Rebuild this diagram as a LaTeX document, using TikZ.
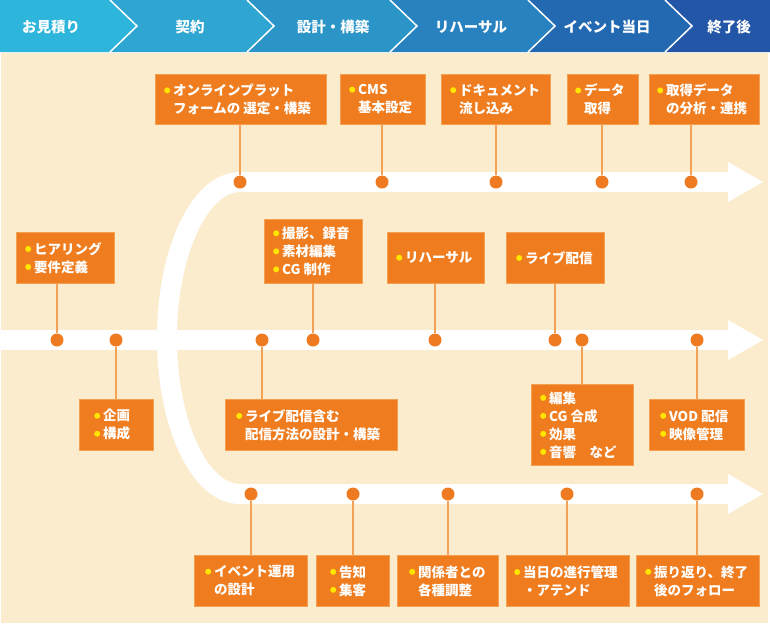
\documentclass[tikz,border=0pt]{standalone}
\usepackage{fontspec}
\setmainfont{Noto Sans CJK JP}
\usetikzlibrary{calc}
\definecolor{beige}{HTML}{FBECCD}
\definecolor{boxor}{HTML}{EF7D1F}
\definecolor{boxedge}{HTML}{F4A052}
\definecolor{dotor}{HTML}{EE7B22}
\definecolor{connor}{HTML}{F3A256}
\definecolor{bulyel}{HTML}{FFE500}
\definecolor{hcA}{HTML}{2DB5DB}
\definecolor{hcB}{HTML}{2FA5D1}
\definecolor{hcC}{HTML}{2B95C8}
\definecolor{hcD}{HTML}{2782BF}
\definecolor{hcE}{HTML}{2369B2}
\definecolor{hcF}{HTML}{2356A7}
\tikzset{
  box/.style={rectangle, fill=boxor, draw=boxedge, line width=0.8pt, inner sep=0pt},
  txt/.style={inner sep=0pt, align=left, text=white, font=\fontsize{13.5}{18}\selectfont\bfseries},
  htxt/.style={inner sep=0pt, text=white, font=\fontsize{14.5}{16}\selectfont\bfseries},
  dotnode/.style={circle, fill=dotor, minimum size=13pt, inner sep=0pt},
  conn/.style={draw=connor, line width=1.5pt},
  road/.style={draw=white, line width=20pt},
  headsep/.style={draw=white, line width=1.5pt}
}
\newcommand\bul{\makebox[9pt][l]{\raisebox{2.2pt}{\tikz\fill[bulyel](0,0)circle(3pt);}}}
\newcommand\cn{\hspace*{9pt}}
\newcommand\bx[7]{%
  \node[box, minimum width=#4pt, minimum height=#5pt, anchor=north west] (#1) at (#2,#3) {};
  \node[txt, anchor=west] (#1t) at ([xshift=#6pt]#1.west) {#7};}
\begin{document}
\begin{tikzpicture}[x=1pt,y=-1pt]
\useasboundingbox (0,0) rectangle (770,625);
\fill[white] (0,0) rectangle (770,625);
\fill[beige] (1,53) rectangle (768,623);
% header
\fill[hcA] (0,0) -- (110,0) -- (137,26) -- (110,52) -- (0,52) -- cycle;
\fill[hcB] (110,0) -- (247,0) -- (274,26) -- (247,52) -- (110,52) -- (137,26) -- cycle;
\fill[hcC] (247,0) -- (390,0) -- (417,26) -- (390,52) -- (247,52) -- (274,26) -- cycle;
\fill[hcD] (390,0) -- (528,0) -- (555,26) -- (528,52) -- (390,52) -- (417,26) -- cycle;
\fill[hcE] (528,0) -- (665,0) -- (692,26) -- (665,52) -- (528,52) -- (555,26) -- cycle;
\fill[hcF] (665,0) -- (770,0) -- (770,52) -- (665,52) -- (692,26) -- cycle;
\foreach \xx in {110,247,390,528,665}
  \draw[headsep] (\xx,0) -- (\xx+27,26) -- (\xx,52);
\node[htxt] (h1) at (51,27) {お見積り};
\node[htxt] (h2) at (190,27) {契約};
\node[htxt] (h3) at (333,27) {設計・構築};
\node[htxt] (h4) at (471,27) {リハーサル};
\node[htxt] (h5) at (607,27) {イベント当日};
\node[htxt] (h6) at (729,27) {終了後};
% roads
\draw[road] (730,182) -- (240,182) arc (270:90:73 and 156) -- (730,494);
\draw[road] (1,340) -- (730,340);
\fill[white] (728,162) -- (763,182) -- (728,202) -- cycle;
\fill[white] (728,320) -- (763,340) -- (728,360) -- cycle;
\fill[white] (728,474) -- (763,494) -- (728,514) -- cycle;
% boxes
\bx{b1}{155}{74}{171}{50}{9}{\bul オンラインプラット\\\cn フォームの 選定・構築}
\bx{b2}{340}{74}{85}{50}{9}{\bul CMS\\\cn 基本設定}
\bx{b3}{441}{74}{109}{50}{9}{\bul ドキュメント\\\cn 流し込み}
\bx{b4}{567}{74}{71}{50}{8}{\bul データ\\\cn 取得}
\bx{b5}{649}{74}{110}{50}{8}{\bul 取得データ\\\cn の分析・連携}
\bx{b6}{16}{232}{98}{51}{9}{\bul ヒアリング\\\bul 要件定義}
\bx{b7}{264}{219}{98}{64}{9}{\bul 撮影、録音\\\bul 素材編集\\\bul CG 制作}
\bx{b8}{387}{232}{97}{51}{9}{\bul リハーサル}
\bx{b9}{506}{232}{98}{51}{10}{\bul ライブ配信}
\bx{b10}{79}{399}{74}{51}{15}{\bul 企画\\\bul 構成}
\bx{b11}{225}{399}{172}{51}{11}{\bul ライブ配信含む\\\cn 配信方法の設計・構築}
\bx{b12}{531}{384}{102}{81}{9}{\bul 編集\\\bul CG 合成\\\bul 効果\\\bul 音響　など}
\bx{b13}{649}{399}{95}{51}{11}{\bul VOD 配信\\\bul 映像管理}
\bx{b14}{194}{555}{113}{51}{11}{\bul イベント運用\\\cn の設計}
\bx{b15}{316}{555}{73}{51}{14}{\bul 告知\\\bul 集客}
\bx{b16}{397}{555}{101}{51}{12}{\bul 関係者との\\\cn 各種調整}
\bx{b17}{506}{555}{123}{51}{8}{\bul 当日の進行管理\\\cn ・アテンド}
\bx{b18}{636}{555}{123}{51}{9}{\bul 振り返り、終了\\\cn 後のフォロー}
% dots
\node[dotnode] (d1) at (240,182) {};
\node[dotnode] (d2) at (382,182) {};
\node[dotnode] (d3) at (496,182) {};
\node[dotnode] (d4) at (602,182) {};
\node[dotnode] (d5) at (691,182) {};
\node[dotnode] (d6) at (57,340) {};
\node[dotnode] (d10) at (116,340) {};
\node[dotnode] (d11) at (262,340) {};
\node[dotnode] (d7) at (313,340) {};
\node[dotnode] (d8) at (435,340) {};
\node[dotnode] (d9) at (555,340) {};
\node[dotnode] (d12) at (582,340) {};
\node[dotnode] (d13) at (697,340) {};
\node[dotnode] (d14) at (251,494) {};
\node[dotnode] (d15) at (353,494) {};
\node[dotnode] (d16) at (448,494) {};
\node[dotnode] (d17) at (567,494) {};
\node[dotnode] (d18) at (697,494) {};
% connectors
\foreach \i in {1,2,3,4,5,6,7,8,9}
  \draw[conn] (b\i.south -| d\i) -- (d\i);
\foreach \i in {10,11,12,13,14,15,16,17,18}
  \draw[conn] (b\i.north -| d\i) -- (d\i);
\end{tikzpicture}
\end{document}
